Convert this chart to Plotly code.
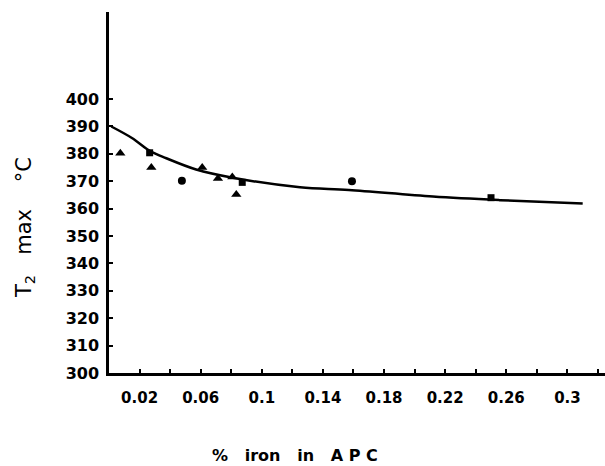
import plotly.graph_objects as go

# Data
tri_x = [0.0074, 0.0277, 0.061, 0.0713, 0.0807, 0.0833]
tri_y = [380.2, 375.0, 375.0, 371.0, 371.6, 365.2]

circ_x = [0.0477, 0.159]
circ_y = [370.2, 370.0]

sq_x = [0.0266, 0.0872, 0.250]
sq_y = [380.4, 369.6, 364.0]

curve_x = [0.0015, 0.015, 0.027, 0.0375, 0.057, 0.081, 0.125, 0.157, 0.212, 0.256, 0.31]
curve_y = [390.0, 385.8, 381.0, 378.4, 374.3, 371.3, 367.8, 366.8, 364.4, 363.1, 361.9]

x_tickvals = [0.02, 0.06, 0.10, 0.14, 0.18, 0.22, 0.26, 0.30]
x_ticktext = ["0.02", "0.06", "0.1", "0.14", "0.18", "0.22", "0.26", "0.3"]
y_tickvals = [300, 310, 320, 330, 340, 350, 360, 370, 380, 390, 400]

fig = go.Figure()
fig.add_trace(go.Scatter(x=curve_x, y=curve_y, mode="lines",
                         line=dict(color="black", width=2.5, shape="spline"),
                         hoverinfo="skip"))
fig.add_trace(go.Scatter(x=tri_x, y=tri_y, mode="markers",
                         marker=dict(symbol="triangle-up", size=9, color="black")))
fig.add_trace(go.Scatter(x=circ_x, y=circ_y, mode="markers",
                         marker=dict(symbol="circle", size=8, color="black")))
fig.add_trace(go.Scatter(x=sq_x, y=sq_y, mode="markers",
                         marker=dict(symbol="square", size=7, color="black")))

font_family = "DejaVu Sans, Liberation Sans, sans-serif"

fig.update_layout(
    width=605, height=466,
    margin=dict(l=109, r=0, t=12, b=93),
    paper_bgcolor="white", plot_bgcolor="white",
    showlegend=False,
    font=dict(family=font_family, color="black"),
    xaxis=dict(range=[0, 0.3246], showline=True, linecolor="black", linewidth=2.5,
               showgrid=False, zeroline=False, ticks="inside", ticklen=4, tickwidth=1.5,
               tickcolor="black", tickvals=x_tickvals, ticktext=x_ticktext,
               minor=dict(ticks="inside", tick0=0, dtick=0.02, ticklen=4,
                          tickwidth=1.5, tickcolor="black", showgrid=False),
               tickfont=dict(size=15, weight="bold"), ticklabelstandoff=9,
               automargin=False),
    yaxis=dict(range=[300, 431.8], showline=True, linecolor="black", linewidth=2.5,
               showgrid=False, zeroline=False, ticks="inside", ticklen=4, tickwidth=1.5,
               tickcolor="black", tickvals=y_tickvals,
               tickfont=dict(size=16, weight="bold"), ticklabelstandoff=4,
               automargin=False),
)

fig.add_annotation(text="%   iron   in   A P C", xref="paper", yref="paper",
                   x=(295 - 109) / 496, y=(466 - 455 - 93) / 361,
                   showarrow=False, font=dict(size=16, weight="bold"),
                   xanchor="center", yanchor="middle")

fig.add_annotation(text="T<sub>2</sub>   max    °C", xref="paper", yref="paper",
                   x=(25 - 109) / 496, y=(466 - 228 - 93) / 361,
                   showarrow=False, textangle=-90, font=dict(size=21),
                   xanchor="center", yanchor="middle")

fig.write_html("out.html", config={"displayModeBar": False},
               post_script="document.body.style.margin='0';document.body.style.overflow='hidden';")
